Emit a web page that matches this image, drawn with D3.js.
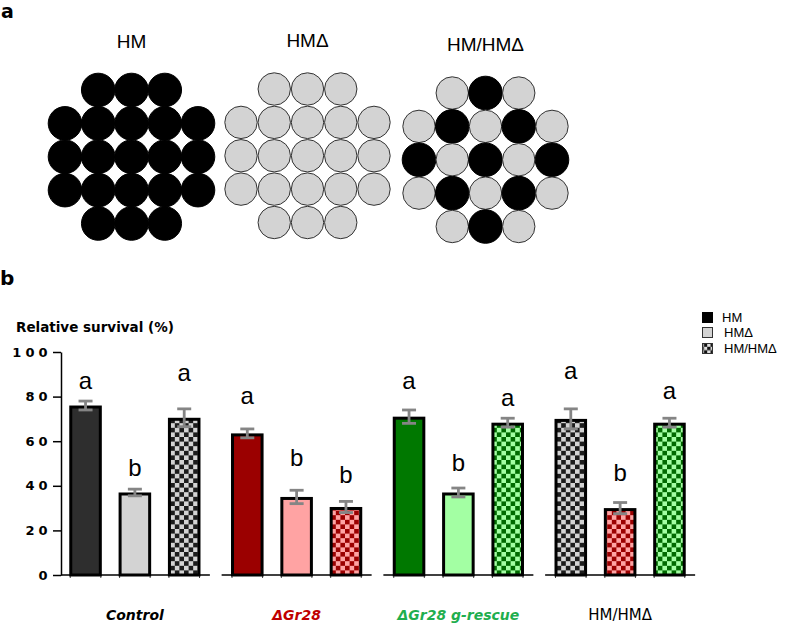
<!DOCTYPE html>
<html><head><meta charset="utf-8">
<script src="https://cdn.jsdelivr.net/npm/d3@7"></script>
<style>
body{margin:0;background:#fff}
svg{display:block;font-family:"DejaVu Sans","Liberation Sans",Arial,sans-serif}
</style>
</head><body>
<svg id="chart" width="790" height="624"></svg>
<script>
// ---------- DATA ----------
// Panel a: genotype layouts (B = HM cell, G = HMΔ cell, space = empty)
const panelTitles = ["HM", "HMΔ", "HM/HMΔ"];
const layoutHM  = [" BBB ", "BBBBB", "BBBBB", "BBBBB", " BBB "];
const layoutHMD = [" GGG ", "GGGGG", "GGGGG", "GGGGG", " GGG "];
const layoutMix = [" GBG ", "GBGBG", "BGBGB", "GBGBG", " GBG "];

// Panel b: relative survival (%)
const groups = ["Control", "ΔGr28", "ΔGr28 g-rescue", "HM/HMΔ"];
const series = ["HM", "HMΔ", "HM/HMΔ"];
const valuesHM  = [76, 63.5, 71, 70];
const valuesHMD = [37, 35, 37, 30];
const valuesMix = [70.5, 30.5, 68.3, 68.3];
const errHM  = [2, 2, 3, 4.5];
const errHMD = [1.5, 3, 2, 2.5];
const errMix = [4, 2.5, 2, 2];
const lettersHM  = ["a", "a", "a", "a"];
const lettersHMD = ["b", "b", "b", "b"];
const lettersMix = ["a", "b", "a", "a"];
const letterAtHM  = [83.6, 76.5, 83.6, 87.7];
const letterAtHMD = [44.4, 48.9, 46.6, 42.2];
const letterAtMix = [86.8, 41.3, 76.0, 78.7];
const yTicks = [0, 20, 40, 60, 80, 100];
const yTitle = "Relative survival (%)";
const legendLabels = ["HM", "HMΔ", "HM/HMΔ"];

// ---------- STYLE ----------
const svg = d3.select("#chart");
const defs = svg.append("defs");
function checker(id, dark, light, c) {
  const p = defs.append("pattern").attr("id", id).attr("patternUnits", "userSpaceOnUse")
    .attr("width", 2 * c).attr("height", 2 * c);
  p.append("rect").attr("width", 2 * c).attr("height", 2 * c).attr("fill", light);
  p.append("rect").attr("width", c).attr("height", c).attr("fill", dark);
  p.append("rect").attr("x", c).attr("y", c).attr("width", c).attr("height", c).attr("fill", dark);
}
checker("chkGray", "#1c1c1c", "#d3d3d3", 4.6);
checker("chkRed", "#9b0000", "#ffa3a3", 4.6);
checker("chkGreen", "#006a00", "#a3ffa3", 4.6);
checker("chkLegend", "#111", "#e0e0e0", 3.4);

const fills = [
  ["#2e2e2e", "#d3d3d3", "url(#chkGray)"],
  ["#9b0000", "#ffa3a3", "url(#chkRed)"],
  ["#007800", "#a3ffa3", "url(#chkGreen)"],
  ["url(#chkGray)", "url(#chkRed)", "url(#chkGreen)"]
];
const labelColors = ["#000", "#c00000", "#1fae4e", "#000"];
const labelStyles = [["bold", "italic", 14], ["bold", "italic", 14], ["bold", "italic", 14], ["normal", "normal", 15]];

// ---------- PANEL a ----------
svg.append("text").attr("x", 1).attr("y", 18).attr("font-size", 19).attr("font-weight", "bold").text("a");
const layouts = [layoutHM, layoutHMD, layoutMix];
const panelCol0 = [65, 241, 419];
const panelRow0 = [90, 89, 93];
const col = d3.scaleLinear().domain([0, 4]).range([0, 133]);
const row = d3.scaleLinear().domain([0, 4]).range([0, 133.5]);
layouts.forEach((lay, pi) => {
  const g = svg.append("g").attr("transform", `translate(${panelCol0[pi]},${panelRow0[pi]})`);
  g.append("text").attr("x", col(2)).attr("y", -42).attr("text-anchor", "middle")
    .attr("font-family", "'Liberation Sans',Arial,sans-serif")
    .attr("font-size", 19).text(panelTitles[pi]);
  const cells = [];
  lay.forEach((s, r) => s.split("").forEach((ch, c) => { if (ch !== " ") cells.push({ r, c, ch }); }));
  g.selectAll("circle").data(cells).join("circle")
    .attr("cx", d => col(d.c)).attr("cy", d => row(d.r))
    .attr("r", d => d.ch === "B" ? 16.8 : 16.2)
    .attr("fill", d => d.ch === "B" ? "#000" : "#d3d3d3")
    .attr("stroke", d => d.ch === "B" ? "#000" : "#333")
    .attr("stroke-width", 1);
});

// ---------- PANEL b ----------
svg.append("text").attr("x", 0).attr("y", 285).attr("font-size", 20).attr("font-weight", "bold").text("b");

const y = d3.scaleLinear().domain([0, 100]).range([575, 352]);
const x0 = d3.scaleBand().domain(groups).range([54, 701]);
const x1 = d3.scaleBand().domain(series).range([0, 148]).paddingInner(0.34).paddingOuter(0.17);
const gCenter = g => x0(g) + x0.bandwidth() / 2;

svg.append("text").attr("x", 16).attr("y", 332).attr("font-size", 13.5).attr("font-weight", "bold").text(yTitle);

const yAxis = svg.append("g").attr("transform", "translate(61,0)")
  .call(d3.axisLeft(y).tickValues(yTicks).tickSize(8).tickSizeOuter(0).tickPadding(1.5));
yAxis.select(".domain").attr("stroke-width", 1.5);
yAxis.selectAll(".tick line").attr("stroke-width", 1.5);
yAxis.selectAll(".tick text").attr("font-family", "'DejaVu Sans',sans-serif")
  .attr("font-size", 13).attr("font-weight", "bold").attr("letter-spacing", "4px").attr("fill", "#000");

const rows = groups.flatMap((g, gi) => [
  { g, gi, si: 0, s: series[0], v: valuesHM[gi], e: errHM[gi], l: lettersHM[gi], la: letterAtHM[gi] },
  { g, gi, si: 1, s: series[1], v: valuesHMD[gi], e: errHMD[gi], l: lettersHMD[gi], la: letterAtHMD[gi] },
  { g, gi, si: 2, s: series[2], v: valuesMix[gi], e: errMix[gi], l: lettersMix[gi], la: letterAtMix[gi] }
]);
const barLeft = d => gCenter(d.g) - 74 + x1(d.s);
const bw = x1.bandwidth();

// x axis segments
svg.append("g").selectAll("line").data(groups).join("line")
  .attr("x1", (g, i) => i === 0 ? 61 : gCenter(g) - 75).attr("x2", g => gCenter(g) + 75)
  .attr("y1", y(0)).attr("y2", y(0)).attr("stroke", "#000").attr("stroke-width", 1.5);
// small ticks at bar edges
svg.append("g").selectAll("line").data(rows.flatMap(d => [barLeft(d) + 1, barLeft(d) + bw - 1])).join("line")
  .attr("x1", d => d).attr("x2", d => d).attr("y1", y(0)).attr("y2", y(0) + 3)
  .attr("stroke", "#444").attr("stroke-width", 1);

// bars
svg.append("g").selectAll("rect").data(rows).join("rect")
  .attr("x", d => barLeft(d) + 1.5).attr("width", bw - 3)
  .attr("y", d => y(d.v) + 1.5).attr("height", d => y(0) - y(d.v) - 1.5)
  .attr("fill", d => fills[d.gi][d.si]).attr("stroke", "#000").attr("stroke-width", 3);

// error bars
const eb = svg.append("g").attr("stroke", "#858585").attr("stroke-width", 2.8);
rows.forEach(d => {
  const cx = barLeft(d) + bw / 2;
  eb.append("line").attr("x1", cx).attr("x2", cx).attr("y1", y(d.v + d.e)).attr("y2", y(d.v - d.e));
  eb.append("line").attr("x1", cx - 7).attr("x2", cx + 7).attr("y1", y(d.v + d.e)).attr("y2", y(d.v + d.e));
  eb.append("line").attr("x1", cx - 7).attr("x2", cx + 7).attr("y1", y(d.v - d.e)).attr("y2", y(d.v - d.e));
});

// significance letters
svg.append("g").selectAll("text").data(rows).join("text")
  .attr("x", d => barLeft(d) + bw / 2).attr("y", d => y(d.la))
  .attr("font-family", "'Liberation Sans',Arial,sans-serif")
  .attr("text-anchor", "middle").attr("font-size", 24).text(d => d.l);

// group labels
svg.append("g").selectAll("text").data(groups).join("text")
  .attr("x", g => gCenter(g)).attr("y", 620).attr("text-anchor", "middle")
  .attr("font-size", (g, i) => labelStyles[i][2])
  .attr("font-weight", (g, i) => labelStyles[i][0]).attr("font-style", (g, i) => labelStyles[i][1])
  .attr("fill", (g, i) => labelColors[i]).text(g => g);

// legend
const legendFills = ["#000", "#d3d3d3", "url(#chkLegend)"];
const lg = svg.append("g");
legendLabels.forEach((t, i) => {
  const yy = [312, 327, 343][i];
  lg.append("rect").attr("x", 702.5).attr("y", yy + 0.5).attr("width", 10).attr("height", 10)
    .attr("fill", legendFills[i]).attr("stroke", i === 0 ? "#000" : "#333").attr("stroke-width", 1);
  lg.append("text").attr("x", i === 0 ? 722 : 724).attr("y", yy + 10)
    .attr("font-family", "'Liberation Sans',Arial,sans-serif")
    .attr("font-size", 13).text(t);
});
</script>
</body></html>
